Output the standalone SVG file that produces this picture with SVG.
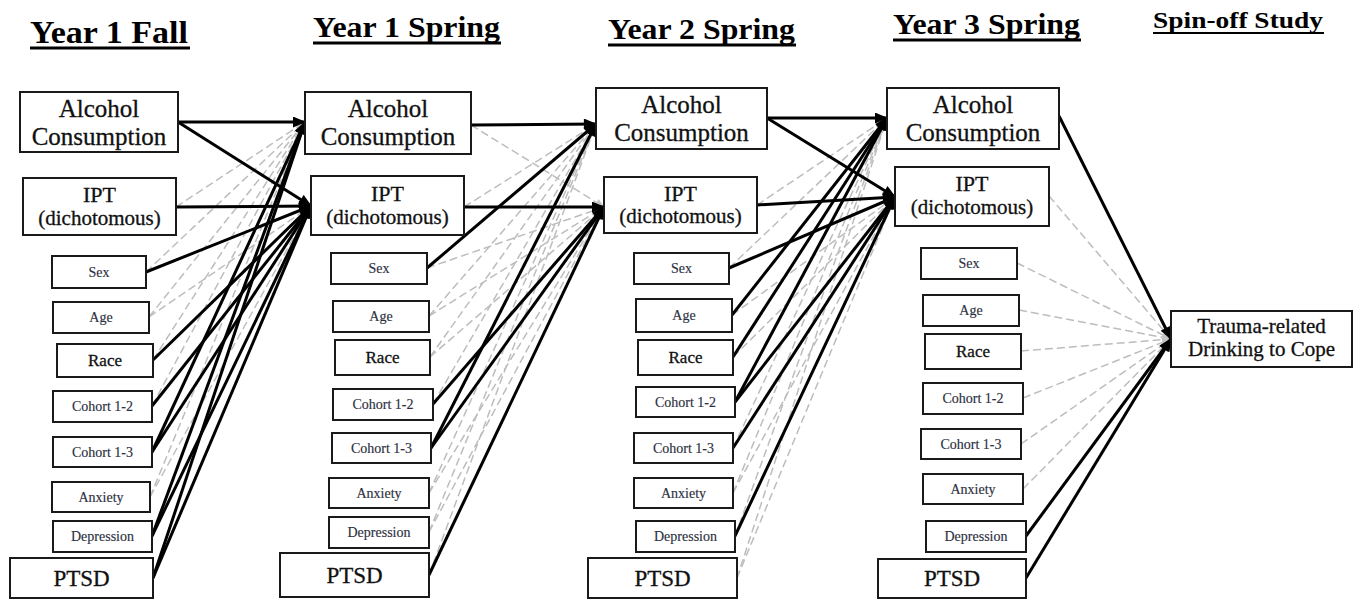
<svg xmlns="http://www.w3.org/2000/svg" width="1360" height="599" viewBox="0 0 1360 599">
<defs>
<marker id="ah" viewBox="0 0 12 10" refX="11" refY="5" markerWidth="14" markerHeight="11" markerUnits="userSpaceOnUse" orient="auto"><path d="M0,0 L12,5 L0,10 z" fill="#000"/></marker>
<marker id="ahg" viewBox="0 0 12 10" refX="11" refY="5" markerWidth="10" markerHeight="8" markerUnits="userSpaceOnUse" orient="auto"><path d="M0,0 L12,5 L0,10 z" fill="#c4c4c4"/></marker>
</defs>
<style>
.bg{fill:#fff}
.box{fill:#fff;stroke:#1a1a1a;stroke-width:2}
.t{font-family:"Liberation Serif","Times New Roman",serif;fill:#111;stroke:#111;stroke-width:0.3;text-anchor:middle}
.big{font-size:25px}
.ipt{font-size:22px}
.dic{font-size:21px}
.sm{font-size:14px;fill:#2c3040;stroke:#2c3040;stroke-width:0.15}
.race{font-size:17px}
.ptsd{font-size:23px}
.hd{font-family:"Liberation Serif","Times New Roman",serif;font-weight:bold;fill:#000}
.ul{stroke:#000;stroke-width:3}
.s{stroke:#000;stroke-width:3;fill:none;marker-end:url(#ah)}
.d{stroke:#bdbdbd;stroke-width:1.5;fill:none;stroke-dasharray:8 4;marker-end:url(#ahg)}
</style>
<rect class="bg" x="0" y="0" width="1360" height="599"/>

<g id="headers">
<text class="hd" x="30" y="43" font-size="32" textLength="158" lengthAdjust="spacingAndGlyphs">Year  1 Fall</text>
<line class="ul" x1="30" y1="48" x2="190" y2="48"/>
<text class="hd" x="313" y="37" font-size="30" textLength="187" lengthAdjust="spacingAndGlyphs">Year 1 Spring</text>
<line class="ul" x1="313" y1="43" x2="501" y2="43"/>
<text class="hd" x="608" y="39" font-size="30" textLength="187" lengthAdjust="spacingAndGlyphs">Year 2 Spring</text>
<line class="ul" x1="608" y1="45" x2="796" y2="45"/>
<text class="hd" x="893" y="34" font-size="30" textLength="187" lengthAdjust="spacingAndGlyphs">Year 3 Spring</text>
<line class="ul" x1="893" y1="40" x2="1081" y2="40"/>
<text class="hd" x="1153" y="28" font-size="23" textLength="170" lengthAdjust="spacingAndGlyphs">Spin-off Study</text>
<line x1="1153" y1="33" x2="1324" y2="33" stroke="#000" stroke-width="2"/>
</g>

<g id="connectors">
<!-- Year1 Fall -> Year1 Spring dashed -->
<path class="d" d="M176,207 L305,122"/>
<path class="d" d="M146,272 L305,122"/>
<path class="d" d="M149,317 L305,122"/>
<path class="d" d="M149,317 L311,206"/>
<path class="d" d="M153,360 L305,122"/>
<path class="d" d="M152,406 L305,122"/>
<path class="d" d="M150,497 L305,122"/>
<path class="d" d="M150,497 L311,206"/>
<!-- Year1 Spring -> Year2 Spring dashed -->
<path class="d" d="M471,125 L604,207"/>
<path class="d" d="M464,207 L596,124"/>
<path class="d" d="M427,268 L604,207"/>
<path class="d" d="M429,316 L596,124"/>
<path class="d" d="M429,316 L604,207"/>
<path class="d" d="M430,357 L596,124"/>
<path class="d" d="M430,357 L604,207"/>
<path class="d" d="M433,404 L596,124"/>
<path class="d" d="M429,493 L596,124"/>
<path class="d" d="M429,493 L604,207"/>
<path class="d" d="M429,532 L596,124"/>
<path class="d" d="M429,532 L604,207"/>
<path class="d" d="M429,575 L596,124"/>
<!-- Year2 Spring -> Year3 Spring dashed -->
<path class="d" d="M757,205 L887,118"/>
<path class="d" d="M729,268 L887,118"/>
<path class="d" d="M732,315 L895,197"/>
<path class="d" d="M733,357 L895,197"/>
<path class="d" d="M733,448 L887,118"/>
<path class="d" d="M733,493 L887,118"/>
<path class="d" d="M733,493 L895,197"/>
<path class="d" d="M735,536 L887,118"/>
<path class="d" d="M737,578 L887,118"/>
<path class="d" d="M737,578 L895,197"/>
<!-- Year3 Spring -> Spin-off dashed -->
<path class="d" d="M1049,196 L1171,339"/>
<path class="d" d="M1017,263 L1171,339"/>
<path class="d" d="M1019,310 L1171,339"/>
<path class="d" d="M1021,351 L1171,339"/>
<path class="d" d="M1023,398 L1171,339"/>
<path class="d" d="M1021,444 L1171,339"/>
<path class="d" d="M1023,489 L1171,339"/>

<!-- solid: Year1 Fall -> Year1 Spring -->
<path class="s" d="M178,122 L305,122"/>
<path class="s" d="M178,122 L311,206"/>
<path class="s" d="M176,207 L311,206"/>
<path class="s" d="M146,272 L311,206"/>
<path class="s" d="M153,360 L311,206"/>
<path class="s" d="M152,406 L311,206"/>
<path class="s" d="M152,452 L311,206"/>
<path class="s" d="M152,452 L305,122"/>
<path class="s" d="M152,536 L305,122"/>
<path class="s" d="M152,536 L311,206"/>
<path class="s" d="M153,578 L305,122"/>
<path class="s" d="M153,578 L311,206"/>
<!-- solid: Year1 Spring -> Year2 Spring -->
<path class="s" d="M471,125 L596,124"/>
<path class="s" d="M464,207 L604,207"/>
<path class="s" d="M427,268 L596,124"/>
<path class="s" d="M433,404 L604,207"/>
<path class="s" d="M431,448 L596,124"/>
<path class="s" d="M431,448 L604,207"/>
<path class="s" d="M429,575 L604,207"/>
<!-- solid: Year2 Spring -> Year3 Spring -->
<path class="s" d="M767,118 L887,118"/>
<path class="s" d="M767,118 L895,197"/>
<path class="s" d="M757,205 L895,197"/>
<path class="s" d="M729,268 L895,197"/>
<path class="s" d="M732,315 L887,118"/>
<path class="s" d="M733,357 L887,118"/>
<path class="s" d="M735,402 L887,118"/>
<path class="s" d="M735,402 L895,197"/>
<path class="s" d="M733,448 L895,197"/>
<path class="s" d="M735,536 L895,197"/>
<!-- solid: Year3 Spring -> Spin-off -->
<path class="s" d="M1059,116 L1171,339"/>
<path class="s" d="M1026,536 L1171,339"/>
<path class="s" d="M1026,578 L1171,339"/>
</g>

<!-- Year 1 Fall -->
<g id="y1f-alc"><rect class="box" x="20" y="92" width="158" height="60"/><text class="t big" x="99" y="117">Alcohol</text><text class="t big" x="99" y="145">Consumption</text></g>
<g id="y1f-ipt"><rect class="box" x="23" y="178" width="153" height="57"/><text class="t ipt" x="99.5" y="202">IPT</text><text class="t dic" x="99.5" y="225">(dichotomous)</text></g>
<g id="y1f-sex"><rect class="box" x="52" y="256" width="94" height="32"/><text class="t sm" x="99" y="277">Sex</text></g>
<g id="y1f-age"><rect class="box" x="53" y="302" width="96" height="31"/><text class="t sm" x="101" y="322">Age</text></g>
<g id="y1f-race"><rect class="box" x="57" y="344" width="96" height="33"/><text class="t race" x="105" y="366">Race</text></g>
<g id="y1f-coh12"><rect class="box" x="53" y="391" width="99" height="31"/><text class="t sm" x="102.5" y="411">Cohort  1-2</text></g>
<g id="y1f-coh13"><rect class="box" x="53" y="437" width="99" height="30"/><text class="t sm" x="102.5" y="457">Cohort  1-3</text></g>
<g id="y1f-anx"><rect class="box" x="52" y="482" width="98" height="30"/><text class="t sm" x="101" y="502">Anxiety</text></g>
<g id="y1f-dep"><rect class="box" x="53" y="521" width="99" height="31"/><text class="t sm" x="102.5" y="541">Depression</text></g>
<g id="y1f-ptsd"><rect class="box" x="10" y="558" width="143" height="40"/><text class="t ptsd" x="81.5" y="586">PTSD</text></g>

<!-- Year 1 Spring -->
<g id="y1s-alc"><rect class="box" x="305" y="92" width="166" height="62"/><text class="t big" x="388" y="117">Alcohol</text><text class="t big" x="388" y="145">Consumption</text></g>
<g id="y1s-ipt"><rect class="box" x="311" y="176" width="153" height="59"/><text class="t ipt" x="387.5" y="201">IPT</text><text class="t dic" x="387.5" y="224">(dichotomous)</text></g>
<g id="y1s-sex"><rect class="box" x="331" y="253" width="96" height="31"/><text class="t sm" x="379" y="273">Sex</text></g>
<g id="y1s-age"><rect class="box" x="333" y="301" width="96" height="31"/><text class="t sm" x="381" y="321">Age</text></g>
<g id="y1s-race"><rect class="box" x="335" y="340" width="95" height="35"/><text class="t race" x="382.5" y="363">Race</text></g>
<g id="y1s-coh12"><rect class="box" x="333" y="389" width="100" height="31"/><text class="t sm" x="383" y="409">Cohort  1-2</text></g>
<g id="y1s-coh13"><rect class="box" x="332" y="433" width="99" height="30"/><text class="t sm" x="381.5" y="453">Cohort  1-3</text></g>
<g id="y1s-anx"><rect class="box" x="329" y="478" width="100" height="30"/><text class="t sm" x="379" y="498">Anxiety</text></g>
<g id="y1s-dep"><rect class="box" x="329" y="517" width="100" height="31"/><text class="t sm" x="379" y="537">Depression</text></g>
<g id="y1s-ptsd"><rect class="box" x="280" y="553" width="149" height="44"/><text class="t ptsd" x="354.5" y="583">PTSD</text></g>

<!-- Year 2 Spring -->
<g id="y2s-alc"><rect class="box" x="596" y="88" width="171" height="61"/><text class="t big" x="681.5" y="113">Alcohol</text><text class="t big" x="681.5" y="141">Consumption</text></g>
<g id="y2s-ipt"><rect class="box" x="604" y="177" width="153" height="56"/><text class="t ipt" x="680.5" y="201">IPT</text><text class="t dic" x="680.5" y="223">(dichotomous)</text></g>
<g id="y2s-sex"><rect class="box" x="634" y="253" width="95" height="31"/><text class="t sm" x="681.5" y="273">Sex</text></g>
<g id="y2s-age"><rect class="box" x="636" y="299" width="96" height="33"/><text class="t sm" x="684" y="320">Age</text></g>
<g id="y2s-race"><rect class="box" x="638" y="340" width="95" height="35"/><text class="t race" x="685.5" y="363">Race</text></g>
<g id="y2s-coh12"><rect class="box" x="636" y="387" width="99" height="30"/><text class="t sm" x="685.5" y="407">Cohort  1-2</text></g>
<g id="y2s-coh13"><rect class="box" x="634" y="433" width="99" height="30"/><text class="t sm" x="683.5" y="453">Cohort  1-3</text></g>
<g id="y2s-anx"><rect class="box" x="634" y="478" width="99" height="30"/><text class="t sm" x="683.5" y="498">Anxiety</text></g>
<g id="y2s-dep"><rect class="box" x="636" y="521" width="99" height="31"/><text class="t sm" x="685.5" y="541">Depression</text></g>
<g id="y2s-ptsd"><rect class="box" x="588" y="558" width="149" height="40"/><text class="t ptsd" x="662.5" y="586">PTSD</text></g>

<!-- Year 3 Spring -->
<g id="y3s-alc"><rect class="box" x="887" y="88" width="172" height="61"/><text class="t big" x="973" y="113">Alcohol</text><text class="t big" x="973" y="141">Consumption</text></g>
<g id="y3s-ipt"><rect class="box" x="895" y="167" width="154" height="59"/><text class="t ipt" x="972" y="191">IPT</text><text class="t dic" x="972" y="214">(dichotomous)</text></g>
<g id="y3s-sex"><rect class="box" x="921" y="248" width="96" height="31"/><text class="t sm" x="969" y="268">Sex</text></g>
<g id="y3s-age"><rect class="box" x="923" y="295" width="96" height="31"/><text class="t sm" x="971" y="315">Age</text></g>
<g id="y3s-race"><rect class="box" x="925" y="334" width="96" height="35"/><text class="t race" x="973" y="357">Race</text></g>
<g id="y3s-coh12"><rect class="box" x="923" y="383" width="100" height="31"/><text class="t sm" x="973" y="403">Cohort  1-2</text></g>
<g id="y3s-coh13"><rect class="box" x="921" y="429" width="100" height="30"/><text class="t sm" x="971" y="449">Cohort  1-3</text></g>
<g id="y3s-anx"><rect class="box" x="923" y="474" width="100" height="30"/><text class="t sm" x="973" y="494">Anxiety</text></g>
<g id="y3s-dep"><rect class="box" x="926" y="521" width="100" height="31"/><text class="t sm" x="976" y="541">Depression</text></g>
<g id="y3s-ptsd"><rect class="box" x="878" y="559" width="148" height="39"/><text class="t ptsd" x="952" y="586">PTSD</text></g>

<!-- Spin-off -->
<g id="spin-trauma"><rect class="box" x="1171" y="311" width="181" height="56"/><text class="t dic" x="1261.5" y="333">Trauma-related</text><text class="t dic" x="1261.5" y="356">Drinking to Cope</text></g>
</svg>
